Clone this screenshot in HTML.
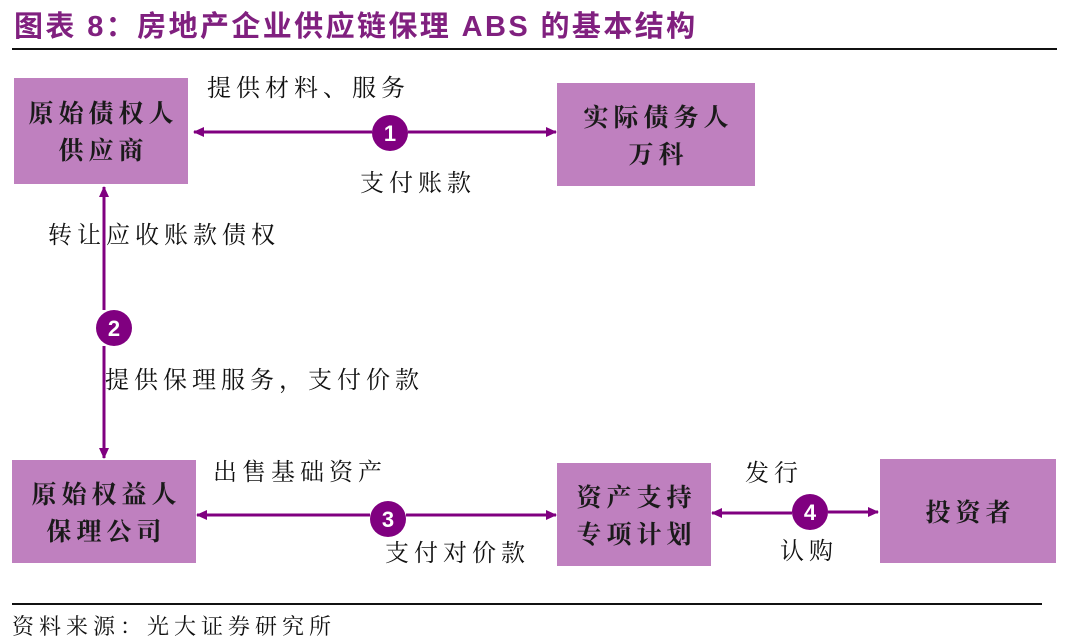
<!DOCTYPE html>
<html><head><meta charset="utf-8"><style>
body{margin:0;width:1080px;height:643px;background:#fff;position:relative;overflow:hidden;font-family:"Liberation Sans","Noto Serif CJK SC","Noto Sans CJK SC",sans-serif;}
.t{position:absolute;white-space:nowrap;}
.box{position:absolute;background:#bf80bf;display:flex;align-items:center;justify-content:center;text-align:center;font-size:25px;font-weight:bold;line-height:37px;color:#1a1a1a;letter-spacing:5px;padding-left:5px;box-sizing:border-box;font-family:"Noto Serif CJK SC",serif;}
.lab{position:absolute;font-size:24px;color:#111;white-space:nowrap;letter-spacing:5px;font-family:"Noto Serif CJK SC",serif;}
</style></head><body>
<div class="t" style="left:14px;top:3px;font-size:29px;font-weight:bold;color:#80207f;font-family:'Liberation Sans','Noto Sans CJK SC',sans-serif;letter-spacing:2.4px;">图表 8：房地产企业供应链保理 ABS 的基本结构</div>
<div style="position:absolute;left:12px;top:48px;width:1045px;height:2px;background:#111"></div>
<div style="position:absolute;left:12px;top:603px;width:1030px;height:2px;background:#111"></div>
<div class="t" style="left:12px;top:610px;font-size:22px;letter-spacing:5px;color:#111;font-family:'Noto Serif CJK SC',serif;">资料来源：光大证券研究所</div>

<div class="box" style="left:14px;top:78px;width:174px;height:106px;">原始债权人<br>供应商</div>
<div class="box" style="left:557px;top:83px;width:198px;height:103px;">实际债务人<br>万科</div>
<div class="box" style="left:12px;top:460px;width:184px;height:103px;">原始权益人<br>保理公司</div>
<div class="box" style="left:557px;top:463px;width:154px;height:103px;">资产支持<br>专项计划</div>
<div class="box" style="left:880px;top:459px;width:176px;height:104px;">投资者</div>

<svg width="1080" height="643" style="position:absolute;left:0;top:0">
<defs><marker id="a" markerWidth="11" markerHeight="10" refX="10" refY="5" orient="auto" markerUnits="userSpaceOnUse"><path d="M0,0 L11,5 L0,10 z" fill="#800080"/></marker></defs>
<g stroke="#800080" stroke-width="3" fill="none">
<line x1="372" y1="132" x2="194" y2="132" marker-end="url(#a)"/>
<line x1="408" y1="132" x2="556" y2="132" marker-end="url(#a)"/>
<line x1="104" y1="310" x2="104" y2="187" marker-end="url(#a)"/>
<line x1="104" y1="346" x2="104" y2="458" marker-end="url(#a)"/>
<line x1="370" y1="515" x2="197" y2="515" marker-end="url(#a)"/>
<line x1="406" y1="515" x2="556" y2="515" marker-end="url(#a)"/>
<line x1="792" y1="513" x2="712" y2="513" marker-end="url(#a)"/>
<line x1="828" y1="512" x2="878" y2="512" marker-end="url(#a)"/>
</g>
<g fill="#800080"><circle cx="390" cy="133" r="18"/><circle cx="114" cy="328" r="18"/><circle cx="388" cy="519" r="18"/><circle cx="810" cy="512" r="18"/></g>
<g fill="#fff" font-family="Liberation Sans" font-weight="bold" font-size="22" text-anchor="middle">
<text x="390" y="141">1</text><text x="114" y="336">2</text><text x="388" y="527">3</text><text x="810" y="520">4</text></g>
</svg>

<div class="lab" style="left:207px;top:68px;">提供材料、服务</div>
<div class="lab" style="left:360px;top:163px;">支付账款</div>
<div class="lab" style="left:48px;top:215px;">转让应收账款债权</div>
<div class="lab" style="left:105px;top:360px;">提供保理服务，支付价款</div>
<div class="lab" style="left:213px;top:452px;">出售基础资产</div>
<div class="lab" style="left:385px;top:533px;">支付对价款</div>
<div class="lab" style="left:745px;top:453px;">发行</div>
<div class="lab" style="left:780px;top:531px;">认购</div>
</body></html>
